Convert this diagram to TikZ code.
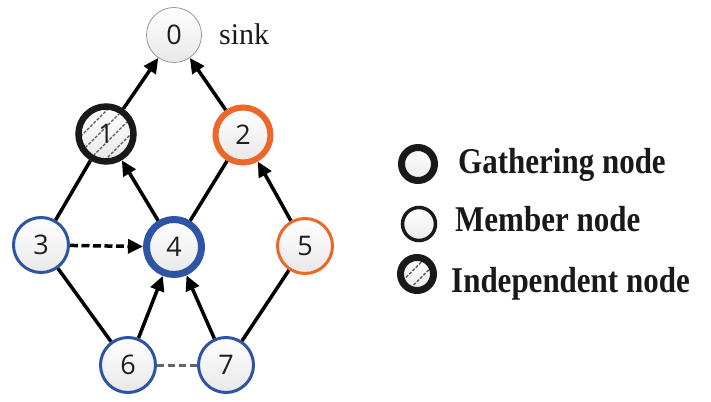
\documentclass[tikz,border=0pt]{standalone}
\usepackage{fontspec}
\setmainfont{Liberation Serif}
\newfontfamily\numfont{Open Sans}
\usetikzlibrary{arrows.meta}
\definecolor{nblue}{RGB}{46,84,165}
\definecolor{norange}{RGB}{236,104,40}
\definecolor{ntext}{RGB}{30,30,30}
\begin{document}
\begin{tikzpicture}[x=1pt,y=-1pt,
  nd/.style={circle, minimum size=55pt, inner sep=0pt, top color=white, bottom color=black!9,
    font=\numfont\fontsize{27}{27}\selectfont, text=ntext},
  conn/.style={line width=3.5pt, draw=black},
  arr/.style={conn, -{Triangle[length=15pt,width=14pt]}},
  hatch/.style={draw=black!65, line width=1.1pt, dash pattern=on 3pt off 1.6pt},
  lgnd/.style={circle, minimum size=33pt, inner sep=0pt, top color=white, bottom color=black!8, draw=black!90},
  lgtext/.style={anchor=base west, inner sep=0pt, font=\bfseries\fontsize{31}{31}\selectfont, text=black!90}
]
\useasboundingbox (0,0) rectangle (711,401);

% nodes
\node[nd, draw=black!45, line width=0.7pt] (n0) at (174,35) {0};
\node[nd, draw=black!90, line width=6.5pt] (n1) at (106,134) {};
\node[nd, draw=norange, line width=6pt] (n2) at (243,135) {2};
\node[nd, draw=nblue, line width=3pt] (n3) at (41,245) {3};
\node[nd, draw=nblue, line width=7pt] (n4) at (174,247) {4};
\node[nd, draw=norange, line width=3pt] (n5) at (305,246) {5};
\node[nd, draw=nblue, line width=3pt] (n6) at (128,365) {6};
\node[nd, draw=nblue, line width=3pt] (n7) at (226,365) {7};

% hatch of node 1
\begin{scope}[shift={(n1.center)}]
  \clip (0,0) circle (24);
  \foreach \o in {-11.5,-3.5,4.5,12.5}
    \draw[hatch] (\o-40,\o+40) -- (\o+40,\o-40);
\end{scope}
\node[font=\numfont\fontsize{27}{27}\selectfont, text=ntext, inner sep=0pt] (n1t) at (n1.center) {1};

\node[anchor=base west, inner sep=0pt, font=\fontsize{30}{30}\selectfont, text=black!90] (sink) at (219,45) {sink};

% connectors
\draw[arr] (n1) -- (n0);
\draw[arr] (n2) -- (n0);
\draw[conn] (n3) -- (n1);
\draw[arr] (n4) -- (n1);
\draw[conn] (n4) -- (n2);
\draw[arr] (n5) -- (n2);
\draw[arr, dash pattern=on 8pt off 3.5pt] (n3) -- (n4);
\draw[conn] (n3) -- (n6);
\draw[arr] (n6) -- (n4);
\draw[arr] (n7) -- (n4);
\draw[conn] (n7) -- (n5);
\draw[line width=3pt, draw=black!60, dash pattern=on 7pt off 4pt] (n6) -- (n7);

% legend
\node[lgnd, line width=7pt] (lg1) at (418,164) {};
\node[lgnd, line width=3.5pt] (lg2) at (419,224) {};
\node[lgnd, line width=7pt] (lg3) at (417,274) {};
\begin{scope}[shift={(lg3.center)}]
  \clip (0,0) circle (13);
  \foreach \o in {-3.8,3.8}
    \draw[hatch, line width=1.3pt] (\o-30,\o+30) -- (\o+30,\o-30);
\end{scope}
\node[lgtext] (t1) at (458,173) {\scalebox{1}[1.17]{Gathering node}};
\node[lgtext] (t2) at (455,231) {\scalebox{1}[1.17]{Member node}};
\node[lgtext] (t3) at (451,292) {\scalebox{1}[1.17]{Independent node}};
\end{tikzpicture}
\end{document}
